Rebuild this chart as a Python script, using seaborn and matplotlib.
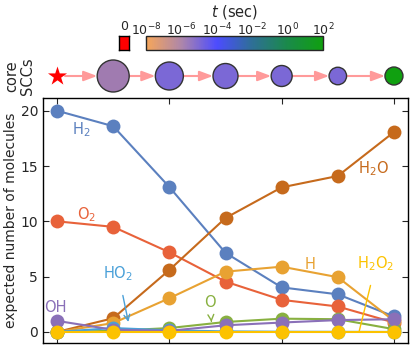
import numpy as np
import pandas as pd
import matplotlib
matplotlib.use("Agg")
import matplotlib.pyplot as plt
import seaborn as sns
from matplotlib.colors import LinearSegmentedColormap, LogNorm
from matplotlib.cm import ScalarMappable

# ---------------- data ----------------
steps = [0, 1, 2, 3, 4, 5, 6]
H2 = [20.0, 18.6, 13.1, 7.15, 4.03, 3.4, 1.4]
O2 = [10.0, 9.5, 7.2, 4.55, 2.9, 2.3, 0.85]
H2O = [0.0, 1.24, 5.6, 10.3, 13.07, 14.1, 18.07]
H = [0.0, 0.8, 3.05, 5.45, 5.9, 4.95, 1.0]
O = [0.0, 0.1, 0.35, 0.9, 1.2, 1.15, 0.25]
HO2 = [0.0, 0.35, 0.15, 0.05, 0.02, 0.01, 0.0]
OH = [1.0, 0.2, 0.1, 0.6, 0.85, 1.07, 1.15]
H2O2 = [0.0, 0.0, 0.0, 0.0, 0.0, 0.0, 0.0]

series_names = ["H2", "O2", "H2O", "H", "O", "HO2", "OH", "H2O2"]
series_vals = [H2, O2, H2O, H, O, HO2, OH, H2O2]
series_colors = ["#5b80bf", "#e8623a", "#c66a1c", "#e8a232", "#88b040",
                 "#4aa0d8", "#8a70b8", "#fcc200"]

# core SCC row: diameters (px) and colours
scc_diam = [0, 32, 28, 25, 21, 17.5, 18]
scc_colors = ["red", "#a07bb0", "#7b68d6", "#7b68d6", "#7b68d6", "#7b68d6", "#10a010"]

cb_ticks = [1e-8, 1e-6, 1e-4, 1e-2, 1e0, 1e2]
cb_labels = [r"$10^{-8}$", r"$10^{-6}$", r"$10^{-4}$", r"$10^{-2}$", r"$10^{0}$", r"$10^{2}$"]

# ---------------- figure ----------------
sns.set_style("ticks")
plt.rcParams["font.family"] = ["DejaVu Sans"]
W, H_ = 416, 351
fig = plt.figure(figsize=(W / 100, H_ / 100), dpi=100)

def fx(px):
    return px / W

def fy(py):
    return 1 - py / H_

# main axes
ax = fig.add_axes([fx(43), fy(343), fx(408) - fx(43), fy(98) - fy(343)])
for name, vals, col in zip(series_names, series_vals, series_colors):
    df = pd.DataFrame({"step": steps, "n": vals})
    sns.lineplot(data=df, x="step", y="n", ax=ax, color=col, marker="o",
                 markersize=10, markeredgewidth=0, linewidth=1.5, legend=False)

ax.set_xlim(-0.25, 6.25)
ax.set_ylim(-1.0, 21.15)
ax.set_xticks([0, 2, 4, 6])
ax.set_xticklabels([])
ax.set_yticks([0, 5, 10, 15, 20])
ax.tick_params(direction="in", top=True, right=True, labelsize=10, length=4)
ax.set_xlabel("")
ax.set_ylabel("expected number of molecules", fontsize=10, labelpad=2)
for s in ax.spines.values():
    s.set_linewidth(1.0)
    s.set_color("black")

fs = 10.5
ax.text(0.44, 18.3, r"H$_2$", color=series_colors[0], fontsize=fs, ha="center", va="center")
ax.text(0.52, 10.6, r"O$_2$", color=series_colors[1], fontsize=fs, ha="center", va="center")
ax.text(5.63, 14.8, r"H$_2$O", color=series_colors[2], fontsize=fs, ha="center", va="center")
ax.text(4.5, 6.1, "H", color=series_colors[3], fontsize=fs, ha="center", va="center")
ax.text(-0.03, 2.2, "OH", color=series_colors[6], fontsize=fs, ha="center", va="center")
ax.annotate("O", xy=(2.75, 0.9), xytext=(2.72, 2.7), color=series_colors[4], fontsize=fs,
            ha="center", va="center",
            arrowprops=dict(arrowstyle="->", color=series_colors[4], lw=1.0, shrinkA=6, shrinkB=0))
ax.annotate(r"HO$_2$", xy=(1.27, 0.9), xytext=(1.09, 5.3), color=series_colors[5], fontsize=fs,
            ha="center", va="center",
            arrowprops=dict(arrowstyle="->", color=series_colors[5], lw=1.0, shrinkA=7, shrinkB=0))
ax.annotate(r"H$_2$O$_2$", xy=(5.38, 0.05), xytext=(5.68, 6.2), color=series_colors[7], fontsize=fs,
            ha="center", va="center",
            arrowprops=dict(arrowstyle="-", color=series_colors[7], lw=1.0, shrinkA=7, shrinkB=0))

# SCC row
axs = fig.add_axes([fx(43), fy(96), fx(408) - fx(43), fy(56) - fy(96)])
axs.set_xlim(-0.25, 6.25)
axs.set_ylim(-1, 1)
for s in axs.spines.values():
    s.set_visible(False)
axs.set_xticks([])
axs.set_yticks([])
axs.set_facecolor("none")
axs.set_ylabel("core\nSCCs", fontsize=10.5, labelpad=6, linespacing=1.0)
pt = 0.72
for i in range(len(steps) - 1):
    rA = (16 * pt / 2) if i == 0 else scc_diam[i] * pt / 2
    rB = scc_diam[i + 1] * pt / 2
    axs.annotate("", xy=(steps[i + 1], 0), xytext=(steps[i], 0),
                 arrowprops=dict(arrowstyle="-|>,head_length=0.8,head_width=0.3",
                                 color="#ff9a9a", lw=1.5, shrinkA=rA, shrinkB=rB),
                 zorder=1)
axs.scatter([steps[0]], [0], marker="*", s=(20 * pt) ** 2, color="red", zorder=3, linewidths=0)
sns.scatterplot(x=steps[1:], y=[0] * 6, ax=axs, s=[(d * pt) ** 2 for d in scc_diam[1:]],
                c=scc_colors[1:], edgecolor="#333333", linewidth=1.0, zorder=3, legend=False)
axs.set_xlim(-0.25, 6.25)
axs.set_ylim(-1, 1)

# colorbar
cmap = LinearSegmentedColormap.from_list(
    "tcmap", [(0.0, "#f6a65a"), (0.2, "#ad86aa"), (0.4, "#4c4cff"),
              (0.6, "#2e6f96"), (0.8, "#1a8a4a"), (1.0, "#10a010")])
cax = fig.add_axes([fx(146), fy(50), fx(323) - fx(146), fy(36) - fy(50)])
cb = fig.colorbar(ScalarMappable(norm=LogNorm(1e-8, 1e2), cmap=cmap), cax=cax,
                  orientation="horizontal")
cax.xaxis.set_ticks_position("top")
cb.set_ticks(cb_ticks)
cb.set_ticklabels(cb_labels)
cax.minorticks_off()
cax.tick_params(axis="x", direction="in", length=3, labelsize=9, pad=-1.5)
cb.outline.set_linewidth(1.0)
cax.set_title(r"$t$ (sec)", fontsize=10.5, pad=-1)

rax = fig.add_axes([fx(119), fy(50), fx(129) - fx(119), fy(36) - fy(50)])
rax.set_facecolor("red")
rax.set_xlim(0, 1)
rax.set_ylim(0, 1)
rax.set_yticks([])
rax.xaxis.set_ticks_position("top")
rax.set_xticks([0.5])
rax.set_xticklabels(["0"])
rax.tick_params(axis="x", length=0, labelsize=9, pad=2)
for s in rax.spines.values():
    s.set_linewidth(1.0)
    s.set_color("black")

fig.savefig("out.png", dpi=100)
